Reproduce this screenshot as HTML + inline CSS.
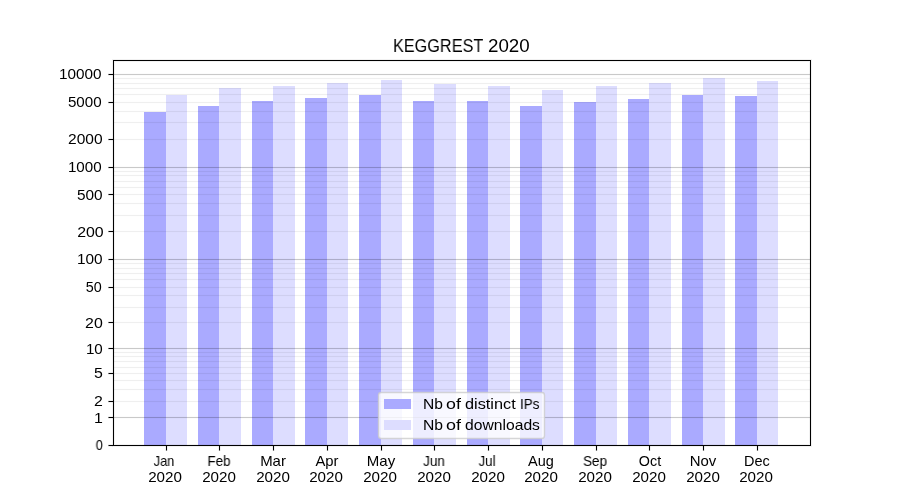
<!DOCTYPE html>
<html lang="en">
<head>
<meta charset="utf-8">
<title>KEGGREST 2020</title>
<style>
html,body{margin:0;padding:0;background:#ffffff;}
body{width:900px;height:500px;position:relative;overflow:hidden;font-family:"Liberation Sans",sans-serif;color:#000000;}
#fig{position:absolute;left:0;top:0;width:900px;height:500px;overflow:hidden;background:#ffffff;}
#txt{position:absolute;left:0;top:0;width:900px;height:500px;will-change:transform;}
.t{position:absolute;will-change:transform;white-space:nowrap;line-height:1;margin:0;padding:0;color:#000000;font-family:"Liberation Sans",sans-serif;font-weight:400;}
</style>
</head>
<body>
<div id="fig">
<svg width="900" height="500" viewBox="0 0 900 500" shape-rendering="crispEdges" style="position:absolute;left:0;top:0">
<rect x="0" y="0" width="900" height="500" fill="#ffffff"/>
<g fill="#aaaaff">
<rect x="144" y="112" width="22" height="333"/>
<rect x="198" y="106" width="21" height="339"/>
<rect x="252" y="101" width="21" height="344"/>
<rect x="305" y="98" width="22" height="347"/>
<rect x="359" y="95" width="22" height="350"/>
<rect x="413" y="101" width="21" height="344"/>
<rect x="467" y="101" width="21" height="344"/>
<rect x="520" y="106" width="22" height="339"/>
<rect x="574" y="102" width="22" height="343"/>
<rect x="628" y="99" width="21" height="346"/>
<rect x="682" y="95" width="21" height="350"/>
<rect x="735" y="96" width="22" height="349"/>
</g><g fill="#ddddff">
<rect x="166" y="95" width="21" height="350"/>
<rect x="219" y="88" width="22" height="357"/>
<rect x="273" y="86" width="22" height="359"/>
<rect x="327" y="83" width="21" height="362"/>
<rect x="381" y="80" width="21" height="365"/>
<rect x="434" y="84" width="22" height="361"/>
<rect x="488" y="86" width="22" height="359"/>
<rect x="542" y="90" width="21" height="355"/>
<rect x="596" y="86" width="21" height="359"/>
<rect x="649" y="83" width="22" height="362"/>
<rect x="703" y="78" width="22" height="367"/>
<rect x="757" y="81" width="21" height="364"/>
</g>
<g fill="#000000">
<rect x="114" y="78" width="696" height="1" fill-opacity="0.06"/>
<rect x="114" y="77" width="696" height="3" fill-opacity="0.0033"/>
<rect x="114" y="83" width="696" height="1" fill-opacity="0.06"/>
<rect x="114" y="82" width="696" height="3" fill-opacity="0.0033"/>
<rect x="114" y="88" width="696" height="1" fill-opacity="0.06"/>
<rect x="114" y="87" width="696" height="3" fill-opacity="0.0033"/>
<rect x="114" y="94" width="696" height="1" fill-opacity="0.06"/>
<rect x="114" y="93" width="696" height="3" fill-opacity="0.0033"/>
<rect x="114" y="102" width="696" height="1" fill-opacity="0.06"/>
<rect x="114" y="101" width="696" height="3" fill-opacity="0.0033"/>
<rect x="114" y="111" width="696" height="1" fill-opacity="0.06"/>
<rect x="114" y="110" width="696" height="3" fill-opacity="0.0033"/>
<rect x="114" y="122" width="696" height="1" fill-opacity="0.06"/>
<rect x="114" y="121" width="696" height="3" fill-opacity="0.0033"/>
<rect x="114" y="139" width="696" height="1" fill-opacity="0.06"/>
<rect x="114" y="138" width="696" height="3" fill-opacity="0.0033"/>
<rect x="114" y="171" width="696" height="1" fill-opacity="0.06"/>
<rect x="114" y="170" width="696" height="3" fill-opacity="0.0033"/>
<rect x="114" y="175" width="696" height="1" fill-opacity="0.06"/>
<rect x="114" y="174" width="696" height="3" fill-opacity="0.0033"/>
<rect x="114" y="181" width="696" height="1" fill-opacity="0.06"/>
<rect x="114" y="180" width="696" height="3" fill-opacity="0.0033"/>
<rect x="114" y="187" width="696" height="1" fill-opacity="0.06"/>
<rect x="114" y="186" width="696" height="3" fill-opacity="0.0033"/>
<rect x="114" y="194" width="696" height="1" fill-opacity="0.06"/>
<rect x="114" y="193" width="696" height="3" fill-opacity="0.0033"/>
<rect x="114" y="203" width="696" height="1" fill-opacity="0.06"/>
<rect x="114" y="202" width="696" height="3" fill-opacity="0.0033"/>
<rect x="114" y="215" width="696" height="1" fill-opacity="0.06"/>
<rect x="114" y="214" width="696" height="3" fill-opacity="0.0033"/>
<rect x="114" y="231" width="696" height="1" fill-opacity="0.06"/>
<rect x="114" y="230" width="696" height="3" fill-opacity="0.0033"/>
<rect x="114" y="263" width="696" height="1" fill-opacity="0.06"/>
<rect x="114" y="262" width="696" height="3" fill-opacity="0.0033"/>
<rect x="114" y="268" width="696" height="1" fill-opacity="0.06"/>
<rect x="114" y="267" width="696" height="3" fill-opacity="0.0033"/>
<rect x="114" y="273" width="696" height="1" fill-opacity="0.06"/>
<rect x="114" y="272" width="696" height="3" fill-opacity="0.0033"/>
<rect x="114" y="279" width="696" height="1" fill-opacity="0.06"/>
<rect x="114" y="278" width="696" height="3" fill-opacity="0.0033"/>
<rect x="114" y="287" width="696" height="1" fill-opacity="0.06"/>
<rect x="114" y="286" width="696" height="3" fill-opacity="0.0033"/>
<rect x="114" y="295" width="696" height="1" fill-opacity="0.06"/>
<rect x="114" y="294" width="696" height="3" fill-opacity="0.0033"/>
<rect x="114" y="307" width="696" height="1" fill-opacity="0.06"/>
<rect x="114" y="306" width="696" height="3" fill-opacity="0.0033"/>
<rect x="114" y="322" width="696" height="1" fill-opacity="0.06"/>
<rect x="114" y="321" width="696" height="3" fill-opacity="0.0033"/>
<rect x="114" y="352" width="696" height="1" fill-opacity="0.06"/>
<rect x="114" y="351" width="696" height="3" fill-opacity="0.0033"/>
<rect x="114" y="356" width="696" height="1" fill-opacity="0.06"/>
<rect x="114" y="355" width="696" height="3" fill-opacity="0.0033"/>
<rect x="114" y="361" width="696" height="1" fill-opacity="0.06"/>
<rect x="114" y="360" width="696" height="3" fill-opacity="0.0033"/>
<rect x="114" y="367" width="696" height="1" fill-opacity="0.06"/>
<rect x="114" y="366" width="696" height="3" fill-opacity="0.0033"/>
<rect x="114" y="373" width="696" height="1" fill-opacity="0.06"/>
<rect x="114" y="372" width="696" height="3" fill-opacity="0.0033"/>
<rect x="114" y="380" width="696" height="1" fill-opacity="0.06"/>
<rect x="114" y="379" width="696" height="3" fill-opacity="0.0033"/>
<rect x="114" y="389" width="696" height="1" fill-opacity="0.06"/>
<rect x="114" y="388" width="696" height="3" fill-opacity="0.0033"/>
<rect x="114" y="401" width="696" height="1" fill-opacity="0.06"/>
<rect x="114" y="400" width="696" height="3" fill-opacity="0.0033"/>
<rect x="114" y="74" width="696" height="1" fill-opacity="0.2"/>
<rect x="114" y="73" width="696" height="3" fill-opacity="0.0110"/>
<rect x="114" y="167" width="696" height="1" fill-opacity="0.2"/>
<rect x="114" y="166" width="696" height="3" fill-opacity="0.0110"/>
<rect x="114" y="259" width="696" height="1" fill-opacity="0.2"/>
<rect x="114" y="258" width="696" height="3" fill-opacity="0.0110"/>
<rect x="114" y="348" width="696" height="1" fill-opacity="0.2"/>
<rect x="114" y="347" width="696" height="3" fill-opacity="0.0110"/>
<rect x="114" y="417" width="696" height="1" fill-opacity="0.2"/>
<rect x="114" y="416" width="696" height="3" fill-opacity="0.0110"/>
</g>
<g fill="#000000">
<rect x="112" y="59" width="700" height="3" fill-opacity="0.055"/>
<rect x="112" y="444" width="700" height="3" fill-opacity="0.055"/>
<rect x="112" y="62" width="3" height="382" fill-opacity="0.055"/>
<rect x="809" y="62" width="3" height="382" fill-opacity="0.055"/>
<rect x="113" y="60" width="698" height="1"/><rect x="113" y="445" width="698" height="1"/>
<rect x="113" y="60" width="1" height="386"/><rect x="810" y="60" width="1" height="386"/>
<rect x="109" y="74" width="4" height="1"/><rect x="108" y="74" width="1" height="1" fill-opacity="0.5"/>
<rect x="108" y="73" width="5" height="3" fill-opacity="0.055"/>
<rect x="109" y="102" width="4" height="1"/><rect x="108" y="102" width="1" height="1" fill-opacity="0.5"/>
<rect x="108" y="101" width="5" height="3" fill-opacity="0.055"/>
<rect x="109" y="139" width="4" height="1"/><rect x="108" y="139" width="1" height="1" fill-opacity="0.5"/>
<rect x="108" y="138" width="5" height="3" fill-opacity="0.055"/>
<rect x="109" y="167" width="4" height="1"/><rect x="108" y="167" width="1" height="1" fill-opacity="0.5"/>
<rect x="108" y="166" width="5" height="3" fill-opacity="0.055"/>
<rect x="109" y="194" width="4" height="1"/><rect x="108" y="194" width="1" height="1" fill-opacity="0.5"/>
<rect x="108" y="193" width="5" height="3" fill-opacity="0.055"/>
<rect x="109" y="231" width="4" height="1"/><rect x="108" y="231" width="1" height="1" fill-opacity="0.5"/>
<rect x="108" y="230" width="5" height="3" fill-opacity="0.055"/>
<rect x="109" y="259" width="4" height="1"/><rect x="108" y="259" width="1" height="1" fill-opacity="0.5"/>
<rect x="108" y="258" width="5" height="3" fill-opacity="0.055"/>
<rect x="109" y="287" width="4" height="1"/><rect x="108" y="287" width="1" height="1" fill-opacity="0.5"/>
<rect x="108" y="286" width="5" height="3" fill-opacity="0.055"/>
<rect x="109" y="322" width="4" height="1"/><rect x="108" y="322" width="1" height="1" fill-opacity="0.5"/>
<rect x="108" y="321" width="5" height="3" fill-opacity="0.055"/>
<rect x="109" y="348" width="4" height="1"/><rect x="108" y="348" width="1" height="1" fill-opacity="0.5"/>
<rect x="108" y="347" width="5" height="3" fill-opacity="0.055"/>
<rect x="109" y="373" width="4" height="1"/><rect x="108" y="373" width="1" height="1" fill-opacity="0.5"/>
<rect x="108" y="372" width="5" height="3" fill-opacity="0.055"/>
<rect x="109" y="401" width="4" height="1"/><rect x="108" y="401" width="1" height="1" fill-opacity="0.5"/>
<rect x="108" y="400" width="5" height="3" fill-opacity="0.055"/>
<rect x="109" y="417" width="4" height="1"/><rect x="108" y="417" width="1" height="1" fill-opacity="0.5"/>
<rect x="108" y="416" width="5" height="3" fill-opacity="0.055"/>
<rect x="109" y="445" width="4" height="1"/><rect x="108" y="445" width="1" height="1" fill-opacity="0.5"/>
<rect x="108" y="444" width="5" height="3" fill-opacity="0.055"/>
<rect x="166" y="446" width="1" height="4"/><rect x="166" y="450" width="1" height="1" fill-opacity="0.5"/>
<rect x="165" y="446" width="3" height="5" fill-opacity="0.055"/>
<rect x="219" y="446" width="1" height="4"/><rect x="219" y="450" width="1" height="1" fill-opacity="0.5"/>
<rect x="218" y="446" width="3" height="5" fill-opacity="0.055"/>
<rect x="273" y="446" width="1" height="4"/><rect x="273" y="450" width="1" height="1" fill-opacity="0.5"/>
<rect x="272" y="446" width="3" height="5" fill-opacity="0.055"/>
<rect x="327" y="446" width="1" height="4"/><rect x="327" y="450" width="1" height="1" fill-opacity="0.5"/>
<rect x="326" y="446" width="3" height="5" fill-opacity="0.055"/>
<rect x="381" y="446" width="1" height="4"/><rect x="381" y="450" width="1" height="1" fill-opacity="0.5"/>
<rect x="380" y="446" width="3" height="5" fill-opacity="0.055"/>
<rect x="434" y="446" width="1" height="4"/><rect x="434" y="450" width="1" height="1" fill-opacity="0.5"/>
<rect x="433" y="446" width="3" height="5" fill-opacity="0.055"/>
<rect x="488" y="446" width="1" height="4"/><rect x="488" y="450" width="1" height="1" fill-opacity="0.5"/>
<rect x="487" y="446" width="3" height="5" fill-opacity="0.055"/>
<rect x="542" y="446" width="1" height="4"/><rect x="542" y="450" width="1" height="1" fill-opacity="0.5"/>
<rect x="541" y="446" width="3" height="5" fill-opacity="0.055"/>
<rect x="596" y="446" width="1" height="4"/><rect x="596" y="450" width="1" height="1" fill-opacity="0.5"/>
<rect x="595" y="446" width="3" height="5" fill-opacity="0.055"/>
<rect x="649" y="446" width="1" height="4"/><rect x="649" y="450" width="1" height="1" fill-opacity="0.5"/>
<rect x="648" y="446" width="3" height="5" fill-opacity="0.055"/>
<rect x="703" y="446" width="1" height="4"/><rect x="703" y="450" width="1" height="1" fill-opacity="0.5"/>
<rect x="702" y="446" width="3" height="5" fill-opacity="0.055"/>
<rect x="757" y="446" width="1" height="4"/><rect x="757" y="450" width="1" height="1" fill-opacity="0.5"/>
<rect x="756" y="446" width="3" height="5" fill-opacity="0.055"/>
</g>
<rect x="378.5" y="392.5" width="166" height="46" rx="2.78" ry="2.78" fill="#ffffff" fill-opacity="0.8" stroke="#cccccc" stroke-opacity="0.8" stroke-width="1.39" shape-rendering="geometricPrecision"/>
<rect x="384" y="399" width="27" height="10" fill="#aaaaff"/>
<rect x="384" y="420" width="27" height="10" fill="#ddddff"/>
</svg>
<div id="txt">
<div class="t title" style="left:393.00px;transform-origin:0 0;top:37.60px;font-size:17.70px;transform:scaleX(0.9187)">KEGGREST</div>
<div class="t title" style="left:488.40px;transform-origin:0 0;top:37.60px;font-size:17.70px;transform:scaleX(1.0591)">2020</div>
<div class="t yt" style="right:798.50px;transform-origin:100% 0;top:66.50px;font-size:14.20px;transform:scaleX(1.0783)">10000</div>
<div class="t yt" style="right:798.50px;transform-origin:100% 0;top:94.50px;font-size:14.20px;transform:scaleX(1.0673)">5000</div>
<div class="t yt" style="right:797.30px;transform-origin:100% 0;top:131.50px;font-size:14.20px;transform:scaleX(1.0936)">2000</div>
<div class="t yt" style="right:798.50px;transform-origin:100% 0;top:159.50px;font-size:14.20px;transform:scaleX(1.0673)">1000</div>
<div class="t yt" style="right:797.30px;transform-origin:100% 0;top:188.10px;font-size:14.20px;transform:scaleX(1.0842)">500</div>
<div class="t yt" style="right:796.10px;transform-origin:100% 0;top:225.10px;font-size:14.20px;transform:scaleX(1.1200)">200</div>
<div class="t yt" style="right:797.30px;transform-origin:100% 0;top:251.50px;font-size:14.20px;transform:scaleX(1.0842)">100</div>
<div class="t yt" style="right:798.50px;transform-origin:100% 0;top:279.50px;font-size:14.20px;transform:scaleX(1.0108)">50</div>
<div class="t yt" style="right:797.70px;transform-origin:100% 0;top:316.10px;font-size:14.20px;transform:scaleX(1.1200)">20</div>
<div class="t yt" style="right:797.30px;transform-origin:100% 0;top:342.10px;font-size:14.20px;transform:scaleX(1.0686)">10</div>
<div class="t yt" style="right:796.90px;transform-origin:100% 0;top:365.50px;font-size:14.20px;transform:scaleX(1.1200)">5</div>
<div class="t yt" style="right:796.90px;transform-origin:100% 0;top:393.50px;font-size:14.20px;transform:scaleX(1.1200)">2</div>
<div class="t yt" style="right:796.90px;transform-origin:100% 0;top:411.10px;font-size:14.20px;transform:scaleX(1.1200)">1</div>
<div class="t yt" style="right:796.90px;transform-origin:100% 0;top:437.50px;font-size:14.20px;transform:scaleX(0.9072)">0</div>
<div class="t xt" style="left:14.10px;width:300px;text-align:center;transform-origin:50% 0;top:453.50px;font-size:14.20px;transform:scaleX(0.9001)">Jan</div>
<div class="t xt" style="left:14.90px;width:300px;text-align:center;transform-origin:50% 0;top:469.50px;font-size:14.20px;transform:scaleX(1.0679)">2020</div>
<div class="t xt" style="left:69.10px;width:300px;text-align:center;transform-origin:50% 0;top:453.50px;font-size:14.20px;transform:scaleX(0.9480)">Feb</div>
<div class="t xt" style="left:68.70px;width:300px;text-align:center;transform-origin:50% 0;top:469.50px;font-size:14.20px;transform:scaleX(1.0679)">2020</div>
<div class="t xt" style="left:122.70px;width:300px;text-align:center;transform-origin:50% 0;top:453.50px;font-size:14.20px;transform:scaleX(1.0536)">Mar</div>
<div class="t xt" style="left:122.70px;width:300px;text-align:center;transform-origin:50% 0;top:469.50px;font-size:14.20px;transform:scaleX(1.0679)">2020</div>
<div class="t xt" style="left:176.70px;width:300px;text-align:center;transform-origin:50% 0;top:453.50px;font-size:14.20px;transform:scaleX(1.0466)">Apr</div>
<div class="t xt" style="left:175.90px;width:300px;text-align:center;transform-origin:50% 0;top:469.50px;font-size:14.20px;transform:scaleX(1.0679)">2020</div>
<div class="t xt" style="left:230.70px;width:300px;text-align:center;transform-origin:50% 0;top:453.50px;font-size:14.20px;transform:scaleX(1.0582)">May</div>
<div class="t xt" style="left:229.90px;width:300px;text-align:center;transform-origin:50% 0;top:469.50px;font-size:14.20px;transform:scaleX(1.0679)">2020</div>
<div class="t xt" style="left:284.10px;width:300px;text-align:center;transform-origin:50% 0;top:453.50px;font-size:14.20px;transform:scaleX(0.9442)">Jun</div>
<div class="t xt" style="left:283.70px;width:300px;text-align:center;transform-origin:50% 0;top:469.50px;font-size:14.20px;transform:scaleX(1.0679)">2020</div>
<div class="t xt" style="left:336.90px;width:300px;text-align:center;transform-origin:50% 0;top:453.50px;font-size:14.20px;transform:scaleX(0.9325)">Jul</div>
<div class="t xt" style="left:337.70px;width:300px;text-align:center;transform-origin:50% 0;top:469.50px;font-size:14.20px;transform:scaleX(1.0679)">2020</div>
<div class="t xt" style="left:390.50px;width:300px;text-align:center;transform-origin:50% 0;top:453.50px;font-size:14.20px;transform:scaleX(1.0212)">Aug</div>
<div class="t xt" style="left:390.90px;width:300px;text-align:center;transform-origin:50% 0;top:469.50px;font-size:14.20px;transform:scaleX(1.0679)">2020</div>
<div class="t xt" style="left:445.30px;width:300px;text-align:center;transform-origin:50% 0;top:453.50px;font-size:14.20px;transform:scaleX(0.9544)">Sep</div>
<div class="t xt" style="left:444.90px;width:300px;text-align:center;transform-origin:50% 0;top:469.50px;font-size:14.20px;transform:scaleX(1.0679)">2020</div>
<div class="t xt" style="left:499.90px;width:300px;text-align:center;transform-origin:50% 0;top:453.50px;font-size:14.20px;transform:scaleX(1.0089)">Oct</div>
<div class="t xt" style="left:498.70px;width:300px;text-align:center;transform-origin:50% 0;top:469.50px;font-size:14.20px;transform:scaleX(1.0679)">2020</div>
<div class="t xt" style="left:552.70px;width:300px;text-align:center;transform-origin:50% 0;top:453.50px;font-size:14.20px;transform:scaleX(1.0536)">Nov</div>
<div class="t xt" style="left:552.70px;width:300px;text-align:center;transform-origin:50% 0;top:469.50px;font-size:14.20px;transform:scaleX(1.0679)">2020</div>
<div class="t xt" style="left:607.10px;width:300px;text-align:center;transform-origin:50% 0;top:453.50px;font-size:14.20px;transform:scaleX(1.0204)">Dec</div>
<div class="t xt" style="left:605.90px;width:300px;text-align:center;transform-origin:50% 0;top:469.50px;font-size:14.20px;transform:scaleX(1.0679)">2020</div>
<div class="t lg" style="left:423.00px;transform-origin:0 0;top:397.10px;font-size:14.20px;transform:scaleX(1.0971)">Nb</div>
<div class="t lg" style="left:446.10px;transform-origin:0 0;top:397.10px;font-size:14.20px;transform:scaleX(1.2542)">of</div>
<div class="t lg" style="left:464.90px;transform-origin:0 0;top:397.10px;font-size:14.20px;transform:scaleX(1.1478)">distinct</div>
<div class="t lg" style="left:520.00px;transform-origin:0 0;top:397.10px;font-size:14.20px;transform:scaleX(0.9404)">IPs</div>
<div class="t lg" style="left:423.00px;transform-origin:0 0;top:418.10px;font-size:14.20px;transform:scaleX(1.1047)">Nb</div>
<div class="t lg" style="left:446.10px;transform-origin:0 0;top:418.10px;font-size:14.20px;transform:scaleX(1.2629)">of</div>
<div class="t lg" style="left:464.50px;transform-origin:0 0;top:418.10px;font-size:14.20px;transform:scaleX(1.1047)">downloads</div>
</div>
</div>
</body>
</html>
